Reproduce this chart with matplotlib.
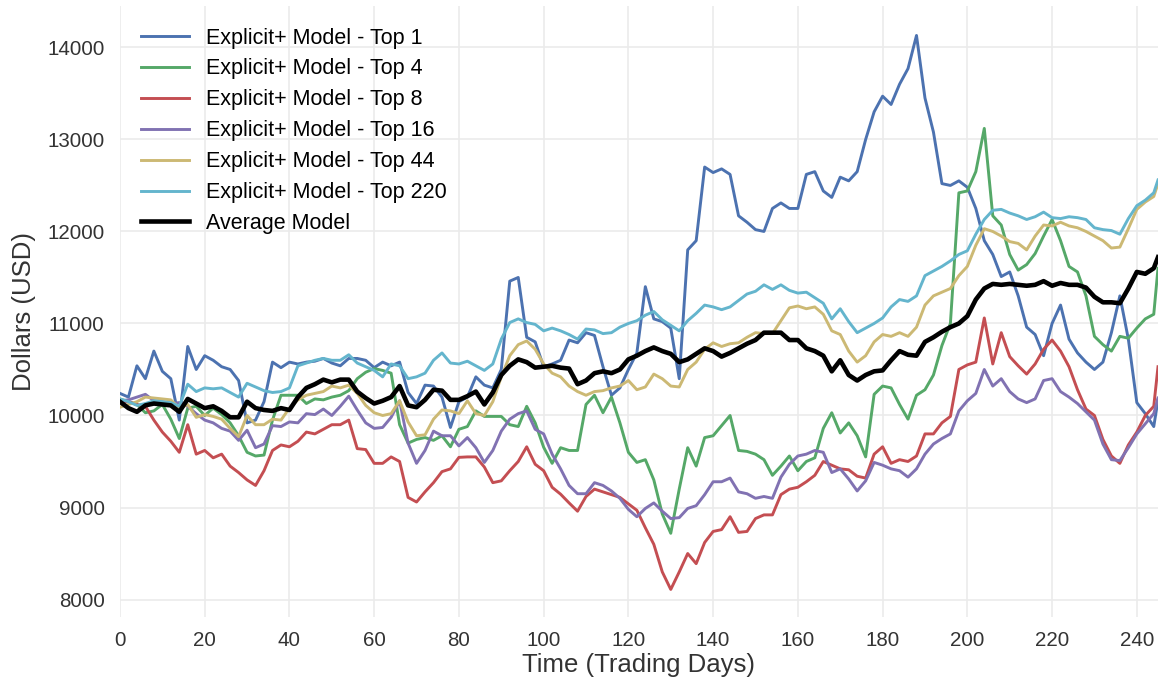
import matplotlib
matplotlib.use("Agg")
import matplotlib.pyplot as plt

# trading days sampled every two days, plus the final day
days = list(range(0, 245, 2)) + [245]

top1 = [10240, 10200, 10540, 10400, 10700, 10480, 10400, 9950, 10750, 10500,
        10650, 10600, 10530, 10500, 10380, 9920, 9950, 10150, 10580, 10520,
        10580, 10560, 10580, 10590, 10620, 10570, 10540, 10620, 10620, 10600,
        10520, 10580, 10540, 10580, 10250, 10130, 10330, 10320, 10200, 9870,
        10150, 10200, 10420, 10330, 10300, 10500, 11460, 11500, 10850, 10800,
        10530, 10560, 10600, 10820, 10790, 10900, 10870, 10530, 10220, 10300,
        10500, 10680, 11400, 11050, 11020, 10950, 10400, 11800, 11900, 12700,
        12640, 12680, 12620, 12170, 12100, 12020, 12000, 12250, 12310, 12250,
        12250, 12620, 12650, 12440, 12370, 12590, 12550, 12650, 13000, 13300,
        13470, 13380, 13600, 13770, 14130, 13450, 13080, 12520, 12500, 12550,
        12480, 12250, 11900, 11750, 11510, 11560, 11300, 10960, 10880, 10650,
        11000, 11200, 10830, 10680, 10580, 10500, 10580, 10900, 11300, 10830,
        10140, 10020, 9880, 10170]

top4 = [10180, 10150, 10120, 10030, 10050, 10120, 9960, 9750, 10080, 10100,
        10000, 10080, 10010, 9920, 9780, 9600, 9560, 9570, 9950, 10220,
        10220, 10220, 10130, 10180, 10170, 10200, 10220, 10270, 10400, 10470,
        10510, 10490, 10460, 9900, 9700, 9740, 9760, 9730, 9780, 9660,
        9850, 9880, 10050, 9990, 9990, 9990, 9900, 9880, 10100, 9920,
        9655, 9480, 9650, 9620, 9620, 10120, 10220, 10030, 10200, 9920,
        9600, 9490, 9520, 9300, 8930, 8720, 9200, 9650, 9450, 9760,
        9780, 9890, 10000, 9620, 9610, 9580, 9520, 9350, 9450, 9560,
        9400, 9500, 9540, 9860, 10030, 9810, 9920, 9780, 9550, 10230,
        10320, 10300, 10120, 9960, 10220, 10280, 10440, 10760, 11000, 12420,
        12440, 12650, 13120, 12170, 12070, 11750, 11580, 11640, 11760, 11950,
        12130, 11900, 11620, 11560, 11300, 10860, 10770, 10700, 10860, 10840,
        10950, 11050, 11100, 11600]

top8 = [10150, 10150, 10120, 10100, 9950, 9820, 9720, 9600, 9900, 9580,
        9620, 9540, 9580, 9450, 9380, 9300, 9240, 9400, 9620, 9680,
        9660, 9720, 9820, 9800, 9850, 9900, 9900, 9950, 9640, 9630,
        9480, 9480, 9550, 9500, 9110, 9060, 9170, 9270, 9390, 9420,
        9545, 9550, 9550, 9440, 9270, 9290, 9400, 9500, 9660, 9470,
        9400, 9220, 9145, 9050, 8960, 9120, 9200, 9170, 9140, 9110,
        9040, 8970, 8780, 8600, 8300, 8110, 8300, 8500, 8390, 8620,
        8740, 8760, 8900, 8730, 8740, 8880, 8920, 8920, 9140, 9200,
        9220, 9280, 9350, 9500, 9460, 9420, 9410, 9340, 9320, 9580,
        9660, 9480, 9520, 9500, 9560, 9800, 9800, 9920, 9990, 10500,
        10550, 10580, 11060, 10560, 10900, 10640, 10540, 10450, 10560, 10720,
        10820, 10700, 10530, 10280, 10070, 10000, 9740, 9560, 9480, 9680,
        9820, 10000, 10100, 10530]

top16 = [10160, 10170, 10200, 10230, 10160, 10150, 10130, 10140, 10100, 10020,
         9950, 9920, 9860, 9830, 9730, 9840, 9650, 9690, 9890, 9880,
         9930, 9920, 10020, 10010, 10070, 10000, 10100, 10210, 10060, 9920,
         9860, 9870, 9980, 10160, 9700, 9480, 9620, 9830, 9780, 9780,
         9670, 9760, 9650, 9490, 9620, 9830, 9960, 10020, 10050, 9850,
         9800, 9580, 9420, 9240, 9150, 9150, 9270, 9240, 9180, 9100,
         8980, 8900, 8990, 9050, 8960, 8880, 8890, 8990, 9020, 9140,
         9280, 9280, 9320, 9170, 9150, 9100, 9120, 9100, 9330, 9470,
         9560, 9580, 9620, 9600, 9380, 9420, 9310, 9180, 9290, 9490,
         9460, 9420, 9400, 9330, 9420, 9580, 9690, 9750, 9800, 10050,
         10160, 10240, 10500, 10320, 10400, 10260, 10180, 10140, 10180, 10380,
         10400, 10260, 10200, 10130, 10040, 9950, 9690, 9520, 9510, 9650,
         9800, 9910, 10020, 10190]

top44 = [10090, 10120, 10150, 10200, 10190, 10180, 10170, 10080, 10120, 9980,
         10010, 9990, 9960, 9860, 9770, 10000, 9900, 9900, 9960, 9950,
         10080, 10170, 10220, 10240, 10260, 10320, 10300, 10330, 10240, 10110,
         10030, 10000, 10020, 10160, 9930, 9780, 9790, 9960, 10060, 10050,
         10020, 10160, 10020, 10000, 10150, 10420, 10650, 10770, 10810, 10720,
         10560, 10460, 10420, 10320, 10260, 10220, 10260, 10270, 10300, 10320,
         10380, 10280, 10310, 10450, 10400, 10320, 10310, 10500, 10580, 10720,
         10790, 10750, 10780, 10790, 10850, 10900, 10890, 10890, 11030, 11170,
         11190, 11160, 11180, 11100, 10920, 10880, 10700, 10580, 10650, 10800,
         10880, 10860, 10900, 10860, 10960, 11200, 11300, 11340, 11380, 11520,
         11620, 11850, 12030, 12000, 11950, 11890, 11870, 11800, 11950, 12070,
         12060, 12100, 12060, 12040, 12000, 11950, 11900, 11820, 11830, 12030,
         12240, 12320, 12380, 12520]

top220 = [10180, 10150, 10110, 10130, 10160, 10150, 10140, 10100, 10340, 10260,
          10300, 10290, 10300, 10250, 10200, 10350, 10310, 10270, 10250, 10260,
          10300, 10540, 10570, 10600, 10620, 10600, 10600, 10660, 10570, 10530,
          10490, 10420, 10560, 10540, 10400, 10420, 10460, 10600, 10680, 10570,
          10560, 10590, 10540, 10490, 10560, 10830, 11010, 11050, 11010, 10990,
          10920, 10950, 10920, 10880, 10830, 10940, 10930, 10890, 10900, 10960,
          11000, 11030, 11090, 11130, 11040, 10980, 10920, 11030, 11110, 11200,
          11180, 11150, 11180, 11250, 11320, 11350, 11420, 11370, 11420, 11360,
          11330, 11340, 11280, 11220, 11050, 11160, 11020, 10900, 10950, 11000,
          11060, 11180, 11260, 11240, 11300, 11520, 11570, 11620, 11680, 11750,
          11790, 11970, 12130, 12230, 12240, 12200, 12170, 12130, 12160, 12210,
          12150, 12140, 12160, 12150, 12130, 12040, 12020, 12010, 11970, 12140,
          12280, 12340, 12420, 12560]

average = [10150, 10080, 10040, 10110, 10130, 10120, 10110, 10040, 10180, 10130,
           10080, 10100, 10050, 9980, 9980, 10150, 10080, 10060, 10050, 10080,
           10060, 10200, 10300, 10340, 10390, 10360, 10390, 10390, 10260, 10190,
           10130, 10160, 10200, 10320, 10110, 10090, 10170, 10280, 10270, 10170,
           10170, 10210, 10260, 10120, 10250, 10440, 10540, 10610, 10580, 10520,
           10530, 10540, 10520, 10510, 10340, 10380, 10460, 10480, 10460, 10500,
           10610, 10650, 10700, 10740, 10700, 10670, 10580, 10610, 10670, 10730,
           10700, 10640, 10680, 10730, 10780, 10820, 10900, 10900, 10900, 10820,
           10820, 10730, 10700, 10650, 10480, 10600, 10440, 10380, 10440, 10480,
           10490, 10600, 10700, 10660, 10650, 10800, 10850, 10910, 10960, 11000,
           11080, 11260, 11380, 11430, 11420, 11430, 11420, 11410, 11420, 11460,
           11410, 11440, 11420, 11420, 11390, 11290, 11230, 11230, 11220, 11380,
           11560, 11540, 11600, 11720]

labels = ["Explicit+ Model - Top 1", "Explicit+ Model - Top 4",
          "Explicit+ Model - Top 8", "Explicit+ Model - Top 16",
          "Explicit+ Model - Top 44", "Explicit+ Model - Top 220"]
colors = ["#4C72B0", "#55A868", "#C44E52", "#8172B2", "#CCB974", "#64B5CD"]

series = [top1, top4, top8, top16, top44, top220, average]
for s in series:
    assert len(s) == len(days)

plt.rcParams['font.family'] = ['Liberation Sans', 'DejaVu Sans']

fig = plt.figure(figsize=(11.58, 6.83), dpi=100)
ax = fig.add_axes([0.1036, 0.0966, 0.8964, 0.8946])

for vals, lab, col in zip(series[:6], labels, colors):
    ax.plot(days, vals, color=col, linewidth=2.1, label=lab)
ax.plot(days, average, color="black", linewidth=3.3, label="Average Model")

ax.set_xlim(0, 245)
ax.set_ylim(7810, 14450)
ax.set_xticks(range(0, 245, 20))
ax.set_yticks(range(8000, 14001, 1000))

ax.grid(True, color="#EBEBEB", linewidth=1.2)
ax.set_axisbelow(True)
for sp in ax.spines.values():
    sp.set_visible(False)
ax.tick_params(length=0, labelsize=14.8, labelcolor="#333333")
ax.tick_params(axis="y", pad=11)
ax.tick_params(axis="x", pad=10)

ax.set_xlabel("Time (Trading Days)", fontsize=18.5, color="#333333", labelpad=2)
ax.set_ylabel("Dollars (USD)", fontsize=18.5, color="#333333", labelpad=8)

ax.legend(loc="upper left", frameon=False, fontsize=15.5, handlelength=2.2,
          handletextpad=0.8, labelspacing=0.46, borderaxespad=0.6)

fig.savefig("out.png", dpi=100)
